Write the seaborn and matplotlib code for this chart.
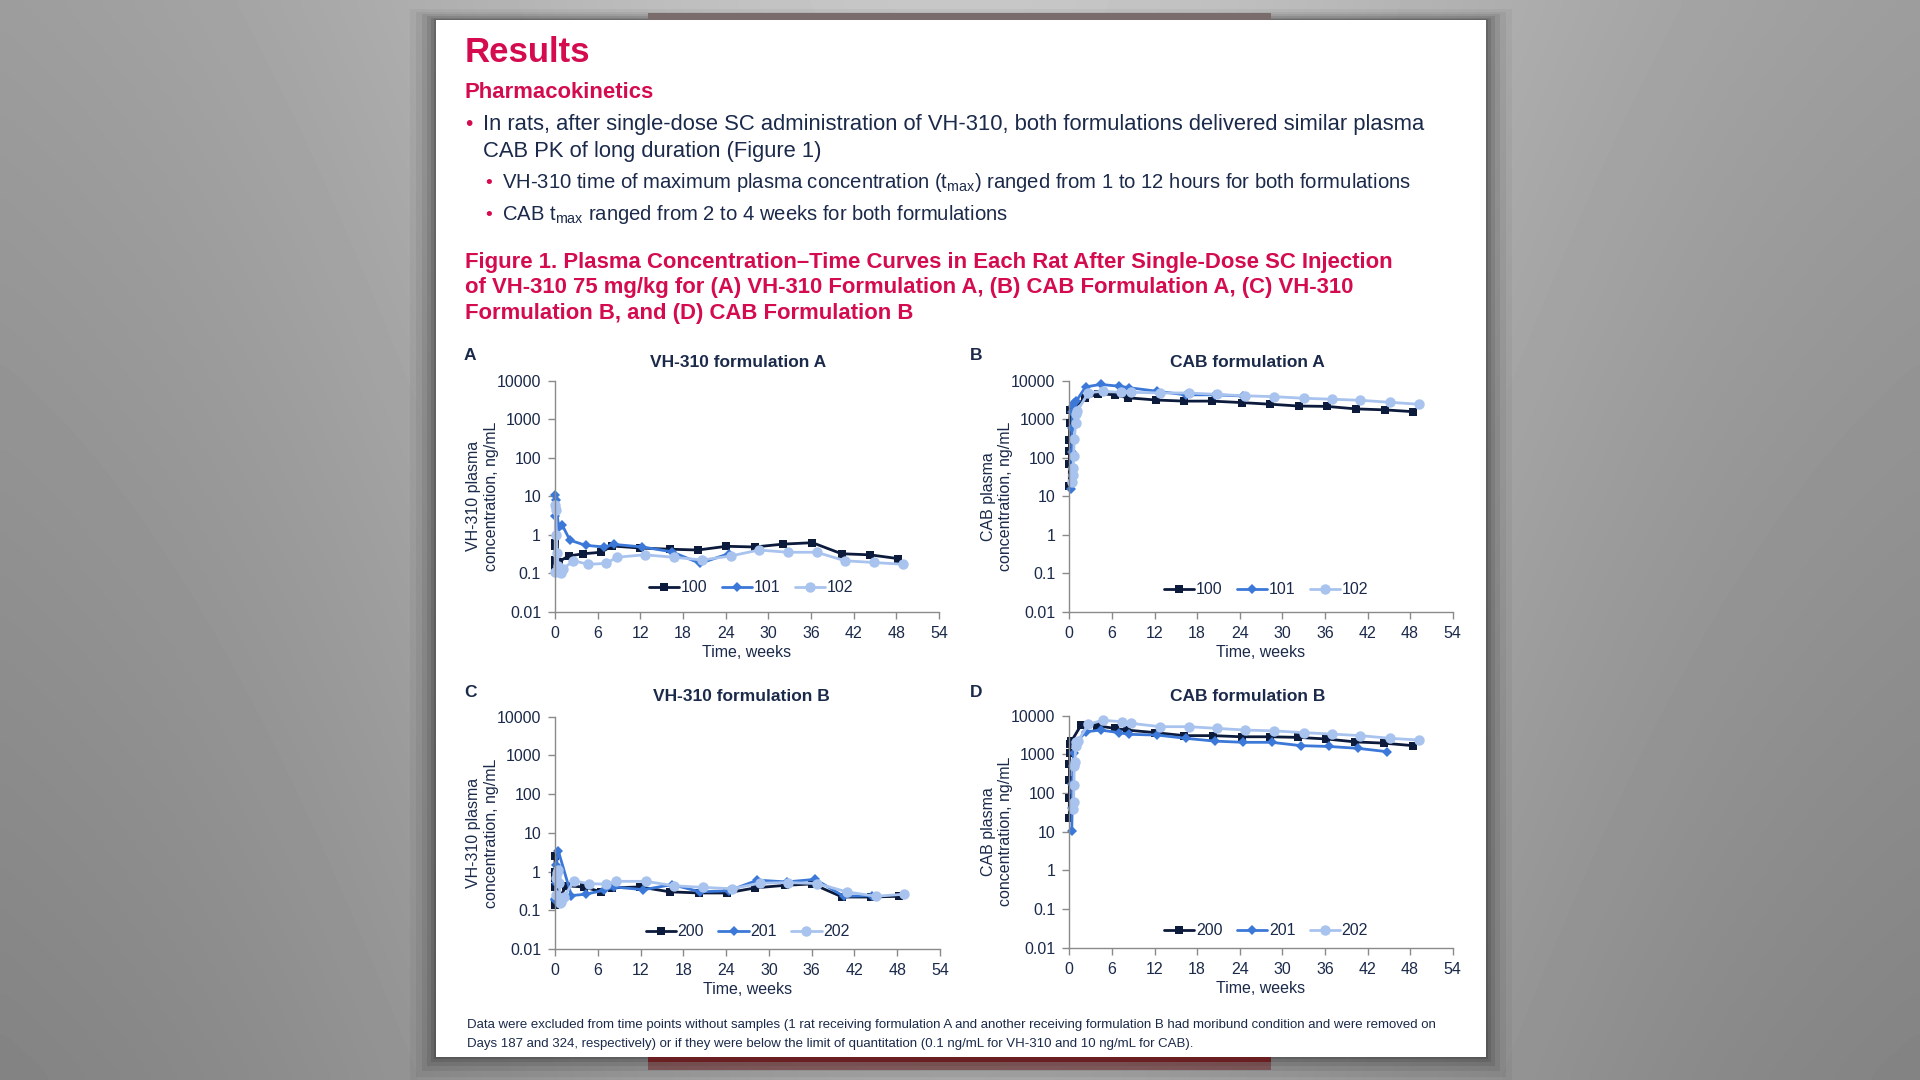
import numpy as np
import pandas as pd
import matplotlib
matplotlib.use("Agg")
import matplotlib.pyplot as plt
import seaborn as sns
from matplotlib.patches import Rectangle
from matplotlib.lines import Line2D

# ---------------- data (weeks, ng/mL) ----------------
# Panel A: VH-310 formulation A
a_t100 = [0.003, 0.006, 0.012, 0.024, 0.048, 0.14, 0.57, 1.9, 4.0, 6.5, 8.0, 12.0, 16.2, 20.1, 24.1, 28.1, 32.1, 36.2, 40.3, 44.3, 48.2]
a_c100 = [0.6, 0.5, 0.22, 0.15, 0.12, 0.13, 0.2, 0.28, 0.32, 0.35, 0.51, 0.45, 0.42, 0.40, 0.50, 0.48, 0.57, 0.62, 0.32, 0.30, 0.24]
a_t101 = [0.02, 0.05, 0.1, 0.2, 0.5, 1.0, 2.1, 4.3, 6.9, 8.3, 12.3, 16.4, 20.4, 24.4]
a_c101 = [3.0, 10.5, 8.0, 5.0, 1.6, 1.8, 0.72, 0.53, 0.48, 0.56, 0.48, 0.36, 0.18, 0.32]
a_t102 = [0.02, 0.05, 0.1, 0.2, 0.3, 0.45, 0.6, 0.8, 1.1, 2.6, 4.7, 7.2, 8.7, 12.6, 16.7, 20.7, 24.7, 28.7, 32.7, 36.8, 40.8, 44.8, 49.0]
a_c102 = [0.11, 5.8, 4.5, 1.0, 0.33, 0.15, 0.11, 0.10, 0.13, 0.21, 0.17, 0.18, 0.26, 0.30, 0.26, 0.22, 0.28, 0.40, 0.35, 0.35, 0.21, 0.19, 0.17]

# Panel B: CAB formulation A
b_t100 = [0.003, 0.006, 0.012, 0.024, 0.048, 0.14, 2.2, 4.1, 6.4, 8.2, 12.2, 16.2, 20.1, 24.3, 28.3, 32.3, 36.3, 40.4, 44.4, 48.4]
b_c100 = [18, 70, 145, 290, 800, 1700, 3500, 4600, 4300, 3600, 3150, 2950, 2950, 2700, 2450, 2200, 2150, 1850, 1750, 1570]
b_t101 = [0.3, 0.35, 0.4, 0.45, 0.5, 0.6, 1.0, 2.3, 4.4, 7.0, 8.4, 12.4, 16.4, 20.5, 24.5]
b_c101 = [15, 140, 600, 1500, 2200, 2600, 3000, 6900, 8000, 7200, 6600, 5300, 4300, 4300, 4000]
b_t102 = [0.45, 0.5, 0.55, 0.6, 0.7, 0.9, 1.0, 1.1, 2.7, 4.7, 7.3, 8.7, 12.8, 16.8, 20.8, 24.8, 28.9, 33.0, 37.0, 41.0, 45.1, 49.2]
b_c102 = [24, 35, 55, 112, 300, 780, 1400, 1600, 4900, 5300, 5000, 5000, 4800, 4800, 4400, 4050, 3850, 3500, 3300, 3100, 2750, 2450]

# Panel C: VH-310 formulation B
c_t200 = [0.003, 0.006, 0.012, 0.024, 0.048, 1.6, 4.0, 6.5, 8.0, 11.9, 16.1, 20.2, 24.1, 28.1, 32.2, 36.1, 40.3, 44.3, 48.2]
c_c200 = [2.5, 1.0, 0.7, 0.4, 0.14, 0.43, 0.40, 0.30, 0.38, 0.40, 0.30, 0.28, 0.28, 0.38, 0.44, 0.48, 0.22, 0.22, 0.23]
c_t201 = [0.02, 0.05, 0.1, 0.2, 0.45, 2.3, 4.3, 6.9, 8.3, 12.4, 16.4, 20.4, 24.4, 28.4, 32.5, 36.5, 40.5, 44.5]
c_c201 = [0.18, 0.2, 0.5, 1.5, 3.5, 0.24, 0.26, 0.33, 0.40, 0.34, 0.46, 0.30, 0.32, 0.60, 0.54, 0.63, 0.23, 0.24]
c_t202 = [0.1, 0.2, 0.3, 0.45, 0.6, 0.75, 0.9, 1.2, 2.7, 4.7, 7.2, 8.6, 12.7, 16.7, 20.8, 24.8, 28.7, 32.7, 36.8, 40.9, 45.0, 49.0]
c_c202 = [0.25, 0.7, 0.9, 1.1, 0.5, 0.15, 0.16, 0.22, 0.57, 0.49, 0.47, 0.56, 0.56, 0.43, 0.39, 0.36, 0.50, 0.52, 0.49, 0.30, 0.23, 0.26]

# Panel D: CAB formulation B
d_t200 = [0.003, 0.006, 0.012, 0.024, 0.048, 0.14, 0.3, 1.7, 3.9, 6.4, 8.1, 12.1, 16.2, 20.2, 24.3, 28.3, 32.2, 36.2, 40.3, 44.3, 48.4]
d_c200 = [22, 73, 218, 550, 1100, 1900, 2200, 5900, 5500, 4700, 4250, 3650, 3050, 3050, 2850, 2850, 2750, 2500, 2100, 1950, 1680]
d_t201 = [0.35, 0.4, 0.45, 0.5, 0.6, 1.0, 2.4, 4.4, 7.0, 8.4, 12.4, 16.4, 20.5, 24.5, 28.5, 32.6, 36.6, 40.7, 44.8]
d_c201 = [10.5, 40, 170, 500, 1100, 2150, 3850, 4250, 3650, 3300, 3150, 2600, 2200, 2050, 2050, 1680, 1600, 1430, 1170]
d_t202 = [0.55, 0.6, 0.65, 0.7, 0.8, 0.9, 1.0, 1.2, 2.7, 4.7, 7.4, 8.7, 12.8, 16.8, 20.8, 24.8, 28.9, 33.0, 37.0, 41.0, 45.2, 49.2]
d_c202 = [38, 57, 160, 500, 650, 1650, 2100, 2200, 6000, 7600, 7000, 6350, 5200, 5200, 4700, 4250, 4050, 3650, 3350, 3050, 2600, 2350]

rats_a = ["100", "101", "102"]
rats_b = ["200", "201", "202"]
x_ticks = [0, 6, 12, 18, 24, 30, 36, 42, 48, 54]
y_ticks = [0.01, 0.1, 1, 10, 100, 1000, 10000]
y_tick_labels = ["0.01", "0.1", "1", "10", "100", "1000", "10000"]

panel_titles = ["VH-310 formulation A", "CAB formulation A", "VH-310 formulation B", "CAB formulation B"]
panel_letters = ["A", "B", "C", "D"]
y_labels = ["VH-310 plasma\nconcentration, ng/mL", "CAB plasma\nconcentration, ng/mL",
            "VH-310 plasma\nconcentration, ng/mL", "CAB plasma\nconcentration, ng/mL"]

# ---------------- style ----------------
sns.set_theme(style="ticks")
plt.rcParams["font.family"] = ["Liberation Sans", "DejaVu Sans"]
plt.rcParams["mathtext.fontset"] = "custom"
plt.rcParams["mathtext.rm"] = "Liberation Sans"
plt.rcParams["mathtext.it"] = "Liberation Sans:italic"
plt.rcParams["mathtext.bf"] = "Liberation Sans:bold"

CRIMSON = "#d40b4f"
NAVY = "#1b2a4a"
AXIS_GREY = "#8a8a8a"
C_DARK = "#0c1a3c"
C_MID = "#3b78d8"
C_LIGHT = "#a9c3ef"
series_style = [(C_DARK, "s", 6.0), (C_MID, "D", 5.0), (C_LIGHT, "o", 7.5)]

W, H = 1920, 1080
fig = plt.figure(figsize=(19.2, 10.8), dpi=100)
fig.patch.set_facecolor("#a0a0a0")

def fx(px):
    return px / W

def fy(py):
    return 1 - py / H

def frect(x0, y0, x1, y1, **kw):
    return Rectangle((fx(x0), fy(y1)), (x1 - x0) / W, (y1 - y0) / H,
                     transform=fig.transFigure, **kw)

# background gradient (decoration)
bg = fig.add_axes([0, 0, 1, 1], zorder=-10)
gy, gx = np.mgrid[0:1:120j, 0:1:200j]
shade = 0.60 + 0.18 * np.exp(-((gx - 0.5) / 0.32) ** 2) - 0.10 * gy
bg.imshow(shade, cmap="gray", vmin=0, vmax=1, aspect="auto", extent=[0, 1, 0, 1],
          interpolation="bicubic")
bg.set_axis_off()

# shadow behind page
for pad, a in [(26, 0.04), (20, 0.05), (14, 0.07), (9, 0.09), (5, 0.11), (2, 0.13)]:
    fig.add_artist(frect(435.5 - pad, 19.5 - pad * 0.4, 1486 + pad, 1056.5 + pad,
                         facecolor="black", alpha=a, edgecolor="none", zorder=-6))
# slide strip behind
fig.add_artist(frect(648, 13, 1271, 22, facecolor="#7a6c6c", edgecolor="none", zorder=-5))
fig.add_artist(frect(648, 1050, 1271, 1062, facecolor="#6a1f22", edgecolor="none", zorder=-5))
fig.add_artist(frect(648, 1062, 1271, 1070, facecolor="#6a1f22", alpha=0.5, edgecolor="none", zorder=-5))
# page
fig.add_artist(frect(435.5, 19.5, 1486, 1056.5, facecolor="white", edgecolor="none", zorder=-4))

# ---------------- header text ----------------
fig.text(fx(465), fy(62), "Results", fontsize=25, fontweight="bold", color=CRIMSON, va="baseline")
fig.text(fx(465), fy(98), "Pharmacokinetics", fontsize=15.9, fontweight="bold", color=CRIMSON, va="baseline")
body1 = dict(fontsize=15.8, color=NAVY, va="baseline")
body2 = dict(fontsize=14.6, color=NAVY, va="baseline")
fig.text(fx(465), fy(130), "•", fontsize=15, color=CRIMSON, va="baseline")
fig.text(fx(483), fy(130), "In rats, after single-dose SC administration of VH-310, both formulations delivered similar plasma", **body1)
fig.text(fx(483), fy(157), "CAB PK of long duration (Figure 1)", **body1)
fig.text(fx(485), fy(188), "•", fontsize=14, color=CRIMSON, va="baseline")
fig.text(fx(502), fy(188), r"VH-310 time of maximum plasma concentration (t$_{\rm max}$) ranged from 1 to 12 hours for both formulations", **body2)
fig.text(fx(485), fy(220), "•", fontsize=14, color=CRIMSON, va="baseline")
fig.text(fx(502), fy(220), r"CAB t$_{\rm max}$ ranged from 2 to 4 weeks for both formulations", **body2)

cap = dict(fontsize=15.9, fontweight="bold", color=CRIMSON, va="baseline")
fig.text(fx(465), fy(268), "Figure 1. Plasma Concentration\u2013Time Curves in Each Rat After Single-Dose SC Injection", **cap)
fig.text(fx(465), fy(293), "of VH-310 75 mg/kg for (A) VH-310 Formulation A, (B) CAB Formulation A, (C) VH-310", **cap)
fig.text(fx(465), fy(319), "Formulation B, and (D) CAB Formulation B", **cap)

foot = dict(fontsize=9.5, color=NAVY, va="baseline")
fig.text(fx(467), fy(1028), "Data were excluded from time points without samples (1 rat receiving formulation A and another receiving formulation B had moribund condition and were removed on", **foot)
fig.text(fx(467), fy(1047), "Days 187 and 324, respectively) or if they were below the limit of quantitation (0.1 ng/mL for VH-310 and 10 ng/mL for CAB).", **foot)

# ---------------- panels ----------------
panel_rects = [(555, 380.7, 939, 611.7), (1069.3, 380.7, 1452.7, 611.7),
               (555, 716.7, 940, 949), (1069.3, 715.7, 1452.7, 947.7)]
title_pos = [(738, 367), (1247, 367), (741, 701), (1248, 701)]
letter_pos = [(464, 360), (970, 360), (464, 697), (970, 697)]
legend_anchor = [(0.51, 0.103), (0.513, 0.094), (0.50, 0.074), (0.513, 0.072)]

panel_data = [
    (rats_a, [(a_t100, a_c100), (a_t101, a_c101), (a_t102, a_c102)]),
    (rats_a, [(b_t100, b_c100), (b_t101, b_c101), (b_t102, b_c102)]),
    (rats_b, [(c_t200, c_c200), (c_t201, c_c201), (c_t202, c_c202)]),
    (rats_b, [(d_t200, d_c200), (d_t201, d_c201), (d_t202, d_c202)]),
]

for i, (rect, (rats, series)) in enumerate(zip(panel_rects, panel_data)):
    x0, y0, x1, y1 = rect
    ax = fig.add_axes([fx(x0), fy(y1), (x1 - x0) / W, (y1 - y0) / H])
    ax.set_facecolor("none")
    handles = []
    for rat, (t, c), (col, mk, ms) in zip(rats, series, series_style):
        df = pd.DataFrame({"t": t, "c": c})
        sns.lineplot(data=df, x="t", y="c", ax=ax, color=col, marker=mk, markersize=ms,
                     markeredgewidth=0, linewidth=2.0, estimator=None, sort=False,
                     legend=False)
        handles.append(Line2D([], [], color=col, marker=mk, markersize=ms,
                              markeredgewidth=0, linewidth=2.0, label=rat))
    for ln in ax.lines:
        ln.set_clip_on(False)
    ax.set_yscale("log")
    ax.set_ylim(0.01, 10000)
    ax.set_xlim(0, 54)
    ax.set_xticks(x_ticks)
    ax.set_xticklabels([str(v) for v in x_ticks])
    ax.set_yticks(y_ticks)
    ax.set_yticklabels(y_tick_labels)
    ax.minorticks_off()
    ax.tick_params(axis="both", which="major", direction="out", length=5, width=1,
                   color=AXIS_GREY, labelsize=11.5, labelcolor=NAVY, pad=5)
    for side in ["top", "right"]:
        ax.spines[side].set_visible(False)
    for side in ["left", "bottom"]:
        ax.spines[side].set_color(AXIS_GREY)
        ax.spines[side].set_linewidth(1.0)
    ax.set_xlabel("Time, weeks", fontsize=11.5, color=NAVY, labelpad=3)
    ax.set_ylabel(y_labels[i], fontsize=11.5, color=NAVY, labelpad=-1.5, linespacing=1.2)
    ax.grid(False)
    ax.legend(handles=handles, loc="center", bbox_to_anchor=legend_anchor[i], ncol=3,
              frameon=False, fontsize=11.5, handlelength=1.9, handletextpad=0.1,
              columnspacing=0.9, labelcolor=NAVY)
    tx, ty = title_pos[i]
    fig.text(fx(tx), fy(ty), panel_titles[i], fontsize=12.5, fontweight="bold",
             color=NAVY, ha="center", va="baseline")
    lx, ly = letter_pos[i]
    fig.text(fx(lx), fy(ly), panel_letters[i], fontsize=12.5, fontweight="bold",
             color=NAVY, va="baseline")

fig.savefig("out.png", dpi=100, facecolor=fig.get_facecolor())
